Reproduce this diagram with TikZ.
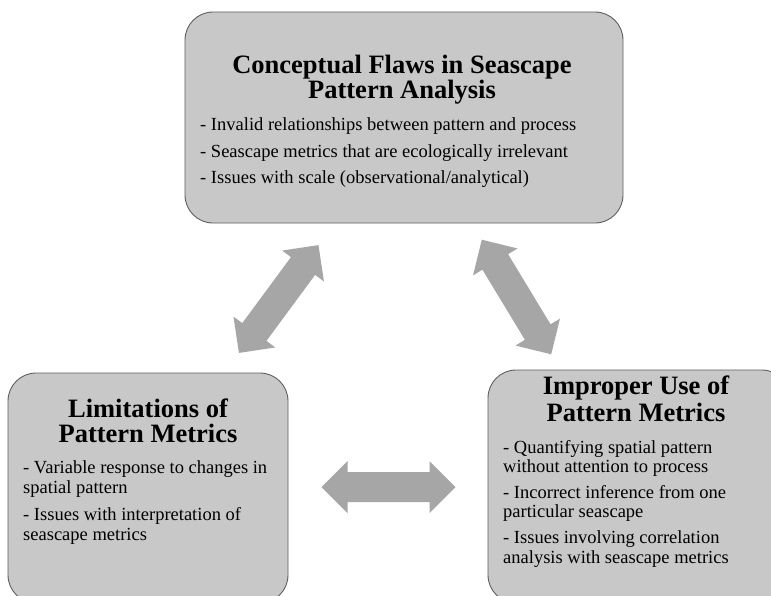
\documentclass[tikz,border=0pt]{standalone}
\usepackage{fontspec}
\setmainfont{Liberation Serif}
\definecolor{boxfill}{HTML}{C8C8C8}
\definecolor{boxline}{HTML}{5E5E5E}
\definecolor{arrowgray}{HTML}{A6A6A6}
\tikzset{
 panel/.style={draw=boxline, fill=boxfill, line width=0.9pt, rounded corners=28pt, inner sep=0pt},
 ttl/.style={anchor=base, inner sep=0pt, font=\fontsize{26.5}{25}\selectfont\bfseries},
 itm/.style={anchor=base west, inner sep=0pt, font=\fontsize{18.5}{20}\selectfont},
 dblarrow/.pic={\fill[arrowgray] (-67,0) -- (-41,26) -- (-41,15) -- (41,15) -- (41,26) -- (67,0) -- (41,-26) -- (41,-15) -- (-41,-15) -- (-41,-26) -- cycle;}
}
\begin{document}
\begin{tikzpicture}[x=1pt,y=-1pt]
\useasboundingbox (0,0) rectangle (771,595);
% boxes
\node[panel, minimum width=438pt, minimum height=211pt] (top) at (404,117.5) {};
\node[panel, minimum width=280pt, minimum height=230pt] (left) at (148,488) {};
\node[panel, minimum width=302pt, minimum height=233pt] (right) at (639,486.5) {};
% top box text
\node[ttl] (t1) at (402,73) {Conceptual Flaws in Seascape};
\node[ttl] (t2) at (402,98) {Pattern Analysis};
\node[itm] (ta) at (200,130) {- Invalid relationships between pattern and process};
\node[itm] (tb) at (200,157) {- Seascape metrics that are ecologically irrelevant};
\node[itm] (tc) at (200,183) {- Issues with scale (observational/analytical)};
% left box text
\node[ttl] (l1) at (148,417) {Limitations of};
\node[ttl] (l2) at (148,442) {Pattern Metrics};
\node[itm] (la) at (23,473) {- Variable response to changes in};
\node[itm] (lb) at (23,493) {spatial pattern};
\node[itm] (lc) at (23,520) {- Issues with interpretation of};
\node[itm] (ld) at (23,540) {seascape metrics};
% right box text
\node[ttl] (r1) at (636,394) {Improper Use of};
\node[ttl] (r2) at (636,421) {Pattern Metrics};
\node[itm] (ra) at (503,453) {- Quantifying spatial pattern};
\node[itm] (rb) at (503,472) {without attention to process};
\node[itm] (rc) at (503,498) {- Incorrect inference from one};
\node[itm] (rd) at (503,517) {particular seascape};
\node[itm] (re) at (503,543) {- Issues involving correlation};
\node[itm] (rf) at (503,563) {analysis with seascape metrics};
% arrows
\pic[rotate=53.6] at (278.7,299) {dblarrow};
\pic[rotate=-58.8] at (516.5,297) {dblarrow};
\pic at (388.5,487) {dblarrow};
\end{tikzpicture}
\end{document}
